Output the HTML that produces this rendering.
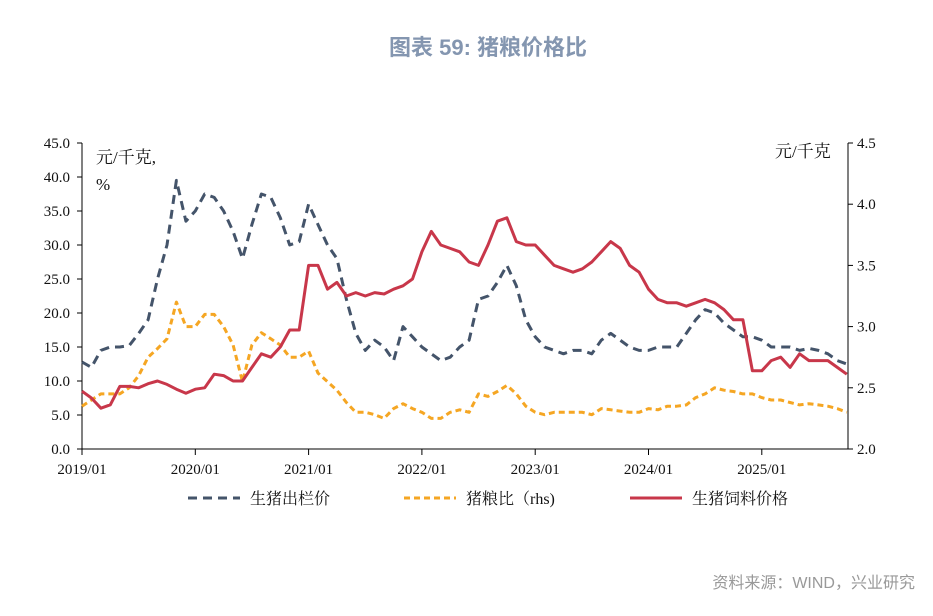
<!DOCTYPE html>
<html><head><meta charset="utf-8">
<style>
body{margin:0;background:#fff;width:933px;height:611px;overflow:hidden;font-family:"Liberation Sans","Noto Sans CJK SC",sans-serif;}
svg text{font-family:"Liberation Serif","Noto Serif CJK SC",serif;}
</style></head><body>
<svg id="chart" width="933" height="611" viewBox="0 0 933 611">
<text x="488" y="55" text-anchor="middle" font-size="22" font-weight="bold" fill="#8496b0" style="font-family:'Liberation Sans','Noto Sans CJK SC',sans-serif">图表 59: 猪粮价格比</text>
<text x="96" y="163" font-size="17" fill="#111">元/千克,</text>
<text x="96" y="190" font-size="17" fill="#111">%</text>
<text x="775" y="157" font-size="17" fill="#111">元/千克</text>
<g id="axes"></g>
<g id="series"></g>
<g>
<line x1="188" y1="498" x2="240" y2="498" stroke="#44546a" stroke-width="3" stroke-dasharray="9,6"/>
<text x="250" y="504" font-size="16" fill="#111">生猪出栏价</text>
<line x1="404" y1="498" x2="456" y2="498" stroke="#f5a623" stroke-width="3" stroke-dasharray="6,4"/>
<text x="466" y="504" font-size="16" fill="#111">猪粮比（rhs)</text>
<line x1="630" y1="498" x2="682" y2="498" stroke="#c8374a" stroke-width="3"/>
<text x="692" y="504" font-size="16" fill="#111">生猪饲料价格</text>
</g>
<text x="915" y="588" text-anchor="end" font-size="16" fill="#999" style="font-family:'Liberation Sans','Noto Sans CJK SC',sans-serif">资料来源：WIND，兴业研究</text>
</svg>
<script>
const xLabels=["2019/01","2020/01","2021/01","2022/01","2023/01","2024/01","2025/01"];
const leftTicks=[0,5,10,15,20,25,30,35,40,45];
const rightTicks=[2.0,2.5,3.0,3.5,4.0,4.5];
const pigPrice=[12.8,12,14.5,15,15,15.2,17,19,25,30,39.5,33.5,
35,37.5,37,35,32,28,33,37.5,37,34,30,30.5,
36,33,30,28,22,17,14.5,16,15,13,18,16.5,
15,14,13,13.5,15,16,22,22.5,24.5,27,24,19,
16.5,15,14.5,14,14.5,14.5,14,16,17,16,15,14.5,
14.5,15,15,15,17,19,20.5,20,18.5,17.5,16.5,16.5,
16,15,15,15,14.5,14.8,14.5,14,13,12.5];
const ratio=[2.35,2.4,2.45,2.45,2.45,2.5,2.6,2.75,2.82,2.9,3.2,3.0,
3.0,3.1,3.1,3.0,2.85,2.55,2.85,2.95,2.9,2.85,2.75,2.75,
2.8,2.62,2.55,2.48,2.38,2.3,2.3,2.28,2.25,2.33,2.37,2.33,
2.3,2.25,2.25,2.3,2.32,2.3,2.45,2.43,2.47,2.52,2.45,2.35,
2.3,2.28,2.3,2.3,2.3,2.3,2.28,2.33,2.32,2.31,2.3,2.3,
2.33,2.32,2.35,2.35,2.36,2.42,2.45,2.5,2.48,2.47,2.45,2.45,
2.42,2.4,2.4,2.38,2.36,2.37,2.36,2.35,2.33,2.3];
const feedPrice=[8.5,7.5,6,6.5,9.2,9.2,9,9.6,10,9.5,8.8,8.2,
8.8,9,11,10.8,10,10,12,14,13.5,15,17.5,17.5,
27,27,23.5,24.5,22.5,23,22.5,23,22.8,23.5,24,25,
29,32,30,29.5,29,27.5,27,30,33.5,34,30.5,30,
30,28.5,27,26.5,26,26.5,27.5,29,30.5,29.5,27,26,
23.5,22,21.5,21.5,21,21.5,22,21.5,20.5,19,19,11.5,
11.5,13,13.5,12,14,13,13,13,12,11];
const NS="http://www.w3.org/2000/svg";
const X0=82,YR=113.3,Y0=449,PX=6.8;
const xs=i=>X0+i*YR/12;
const yL=v=>Y0-v*PX;
const yR=v=>Y0-(v-2)*306/2.5;
const axes=document.getElementById('axes'),ser=document.getElementById('series');
function mk(tag,at,parent){const e=document.createElementNS(NS,tag);for(const k in at)e.setAttribute(k,at[k]);parent.appendChild(e);return e;}
mk('line',{x1:82,y1:143,x2:82,y2:449,stroke:'#000','stroke-width':1},axes);
mk('line',{x1:848,y1:143,x2:848,y2:449,stroke:'#000','stroke-width':1},axes);
mk('line',{x1:82,y1:449,x2:848,y2:449,stroke:'#000','stroke-width':1},axes);
leftTicks.forEach(v=>{const y=yL(v);
mk('line',{x1:77,y1:y,x2:82,y2:y,stroke:'#000'},axes);
const t=mk('text',{x:70,y:y+5,'text-anchor':'end','font-size':15,fill:'#111'},axes);t.textContent=v.toFixed(1);

});
rightTicks.forEach(v=>{const y=yR(v);
mk('line',{x1:848,y1:y,x2:853,y2:y,stroke:'#000'},axes);
const t=mk('text',{x:857,y:y+5,'font-size':15,fill:'#111'},axes);t.textContent=v.toFixed(1);

});
xLabels.forEach((l,i)=>{const x=xs(i*12);
mk('line',{x1:x,y1:449,x2:x,y2:455,stroke:'#000'},axes);
const t=mk('text',{x:x,y:474,'text-anchor':'middle','font-size':15,fill:'#111'},axes);t.textContent=l;

});
function line(data,yf,color,dash,name){
const d=data.map((v,i)=>(i?'L':'M')+xs(i).toFixed(1)+','+yf(v).toFixed(1)).join('');
const p=mk('path',{d:d,fill:'none',stroke:color,'stroke-width':3,'stroke-linejoin':'round'},ser);
if(dash)p.setAttribute('stroke-dasharray',dash);

}
line(ratio,yR,'#f5a623','6,4','ratio-line');
line(pigPrice,yL,'#44546a','9,6','pig-price-line');
line(feedPrice,yL,'#c8374a',null,'feed-price-line');
</script>
</body></html>
